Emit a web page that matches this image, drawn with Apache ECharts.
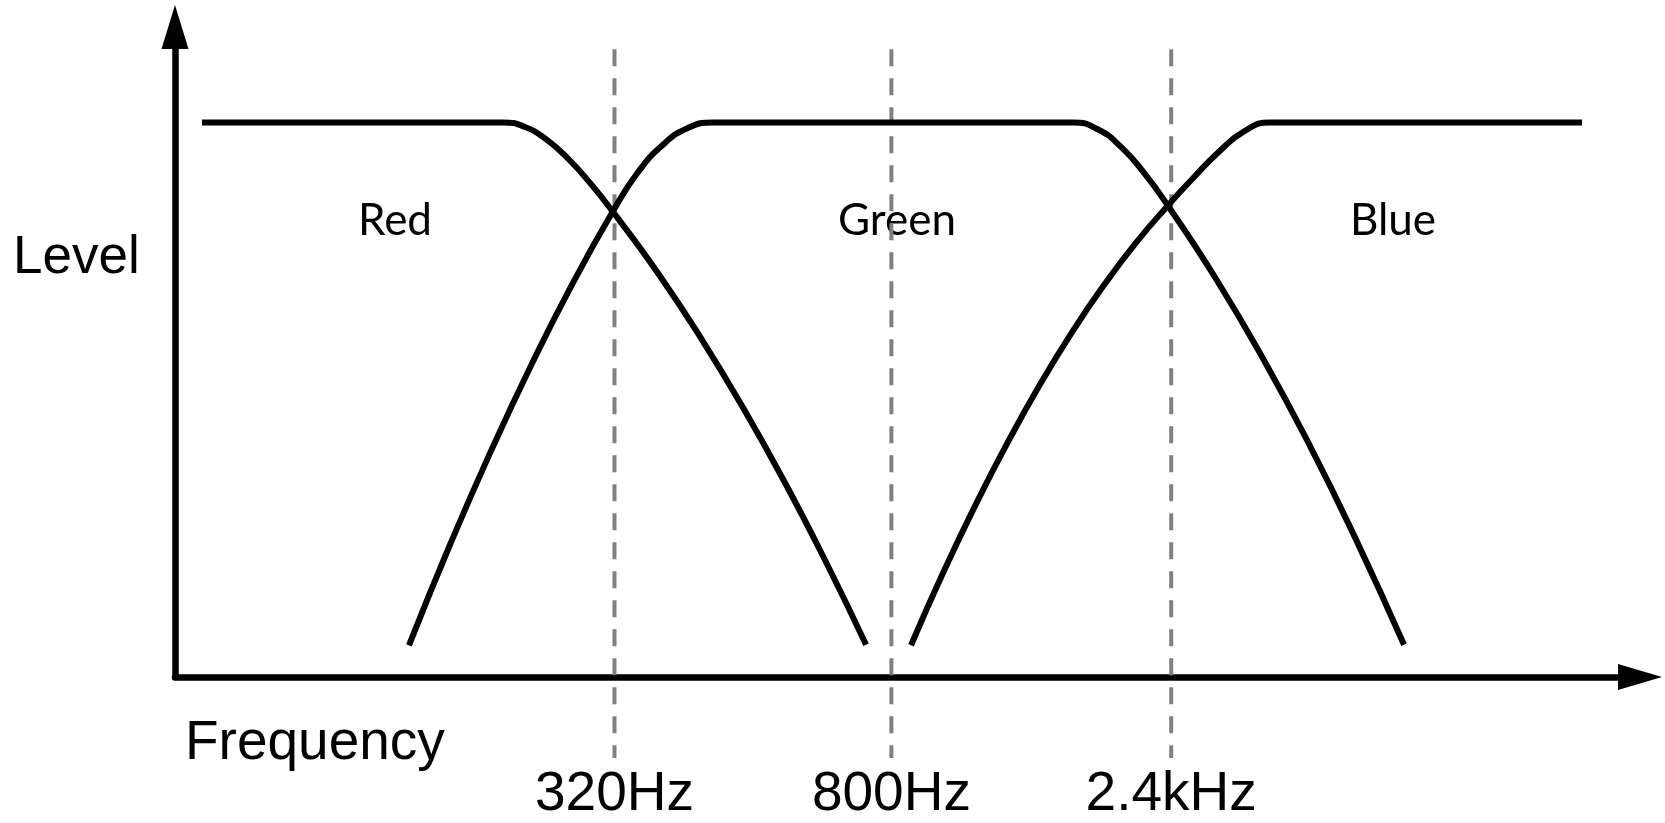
<!DOCTYPE html>
<html>
<head>
<meta charset="utf-8">
<script src="https://cdn.jsdelivr.net/npm/echarts@6/dist/echarts.min.js"></script>
<style>html,body{margin:0;padding:0;background:#fff}#c{width:1665px;height:823px}</style>
</head>
<body>
<div id="c"></div>
<script>
// Frequency position (0..100 along axis) and level (flat top = 100)
const redX   = [1.84, 22.39, 23.89, 25.39, 26.89, 28.40, 29.90, 32.97, 35.90, 38.77, 41.71, 44.57, 47.17];
const redY   = [100, 100, 99.16, 96.85, 93.31, 88.86, 83.86, 72.81, 61.11, 48.59, 34.67, 20.02, 5.83];
const greenX = [15.97, 18.77, 21.57, 24.37, 27.10, 29.90, 31.60, 33.31, 35.02, 36.72,
                61.30, 62.92, 64.54, 66.16, 67.78, 70.99, 74.20, 77.41, 80.61, 83.89];
const greenY = [5.72, 23.85, 40.77, 56.53, 70.75, 84.01, 91.00, 95.99, 99.00, 100,
                100, 98.86, 95.67, 90.86, 84.97, 72.08, 57.75, 41.99, 24.81, 5.81];
const blueX  = [50.24, 52.43, 54.61, 56.82, 59.04, 61.19, 63.41, 65.59, 67.78, 69.52, 71.26, 73.00, 74.74, 96.04];
const blueY  = [5.72, 18.78, 30.84, 42.20, 52.72, 62.02, 70.66, 78.27, 85.03, 90.02, 94.72, 98.43, 100, 100];
const markerX = [30.0, 48.9, 68.0];
const tickLabels = ['320Hz', '800Hz', '2.4kHz'];
const markerSpan = [113.2, -14.6];
const bandNames = ['Red', 'Green', 'Blue'];

const zip = (xs, ys) => xs.map((x, i) => [x, ys[i]]);
const chart = echarts.init(document.getElementById('c'), null, {renderer: 'canvas'});

const curve = (name, xs, ys) => ({
  name, type: 'line', data: zip(xs, ys), showSymbol: false, smooth: 0.5,
  lineStyle: {color: '#000', width: 6}, z: 5, silent: true
});
const dashSeries = markerX.map((x, i) => ({
  name: 'mark' + i, type: 'line', data: [[x, markerSpan[0]], [x, markerSpan[1]]],
  showSymbol: false, clip: false, silent: true, z: 3,
  lineStyle: {color: '#808080', width: 4, type: [17, 12]}
}));

chart.setOption({
  animation: false,
  grid: {left: 175, right: 25, top: 27, bottom: 141},
  xAxis: {
    type: 'value', min: 0, max: 100,
    axisLine: {show: true, symbol: ['none', 'triangle'], symbolSize: [26, 44], lineStyle: {color: '#000', width: 6.5}},
    axisTick: {show: false},
    splitLine: {show: false},
    axisLabel: {
      show: true, customValues: markerX, margin: 90,
      formatter: v => tickLabels[markerX.indexOf(v)] || '',
      fontFamily: 'Liberation Sans', fontSize: 55, color: '#000', lineHeight: 56
    }
  },
  yAxis: {
    type: 'value', min: 0, max: 117.2,
    axisLine: {show: true, symbol: ['none', 'triangle'], symbolSize: [27, 44], lineStyle: {color: '#000', width: 6.5}},
    axisTick: {show: false}, splitLine: {show: false}, axisLabel: {show: false}
  },
  series: [
    ...dashSeries,
    curve(bandNames[0], redX, redY),
    curve(bandNames[1], greenX, greenY),
    curve(bandNames[2], blueX, blueY)
  ],
  graphic: [
    {type: 'text', left: 13, top: 232, style: {text: 'Level', font: '53px "Liberation Sans"', fill: '#000'}},
    {type: 'text', left: 185, top: 716, style: {text: 'Frequency', font: '55px "Liberation Sans"', fill: '#000'}},
    {type: 'text', x: 395, y: 221, style: {text: bandNames[0], font: '44px Lato', fill: '#000', align: 'center', verticalAlign: 'middle'}},
    {type: 'text', x: 897, y: 221, style: {text: bandNames[1], font: '44px Lato', fill: '#000', align: 'center', verticalAlign: 'middle'}},
    {type: 'text', x: 1393, y: 221, style: {text: bandNames[2], font: '44px Lato', fill: '#000', align: 'center', verticalAlign: 'middle'}}
  ]
});
</script>
</body>
</html>
